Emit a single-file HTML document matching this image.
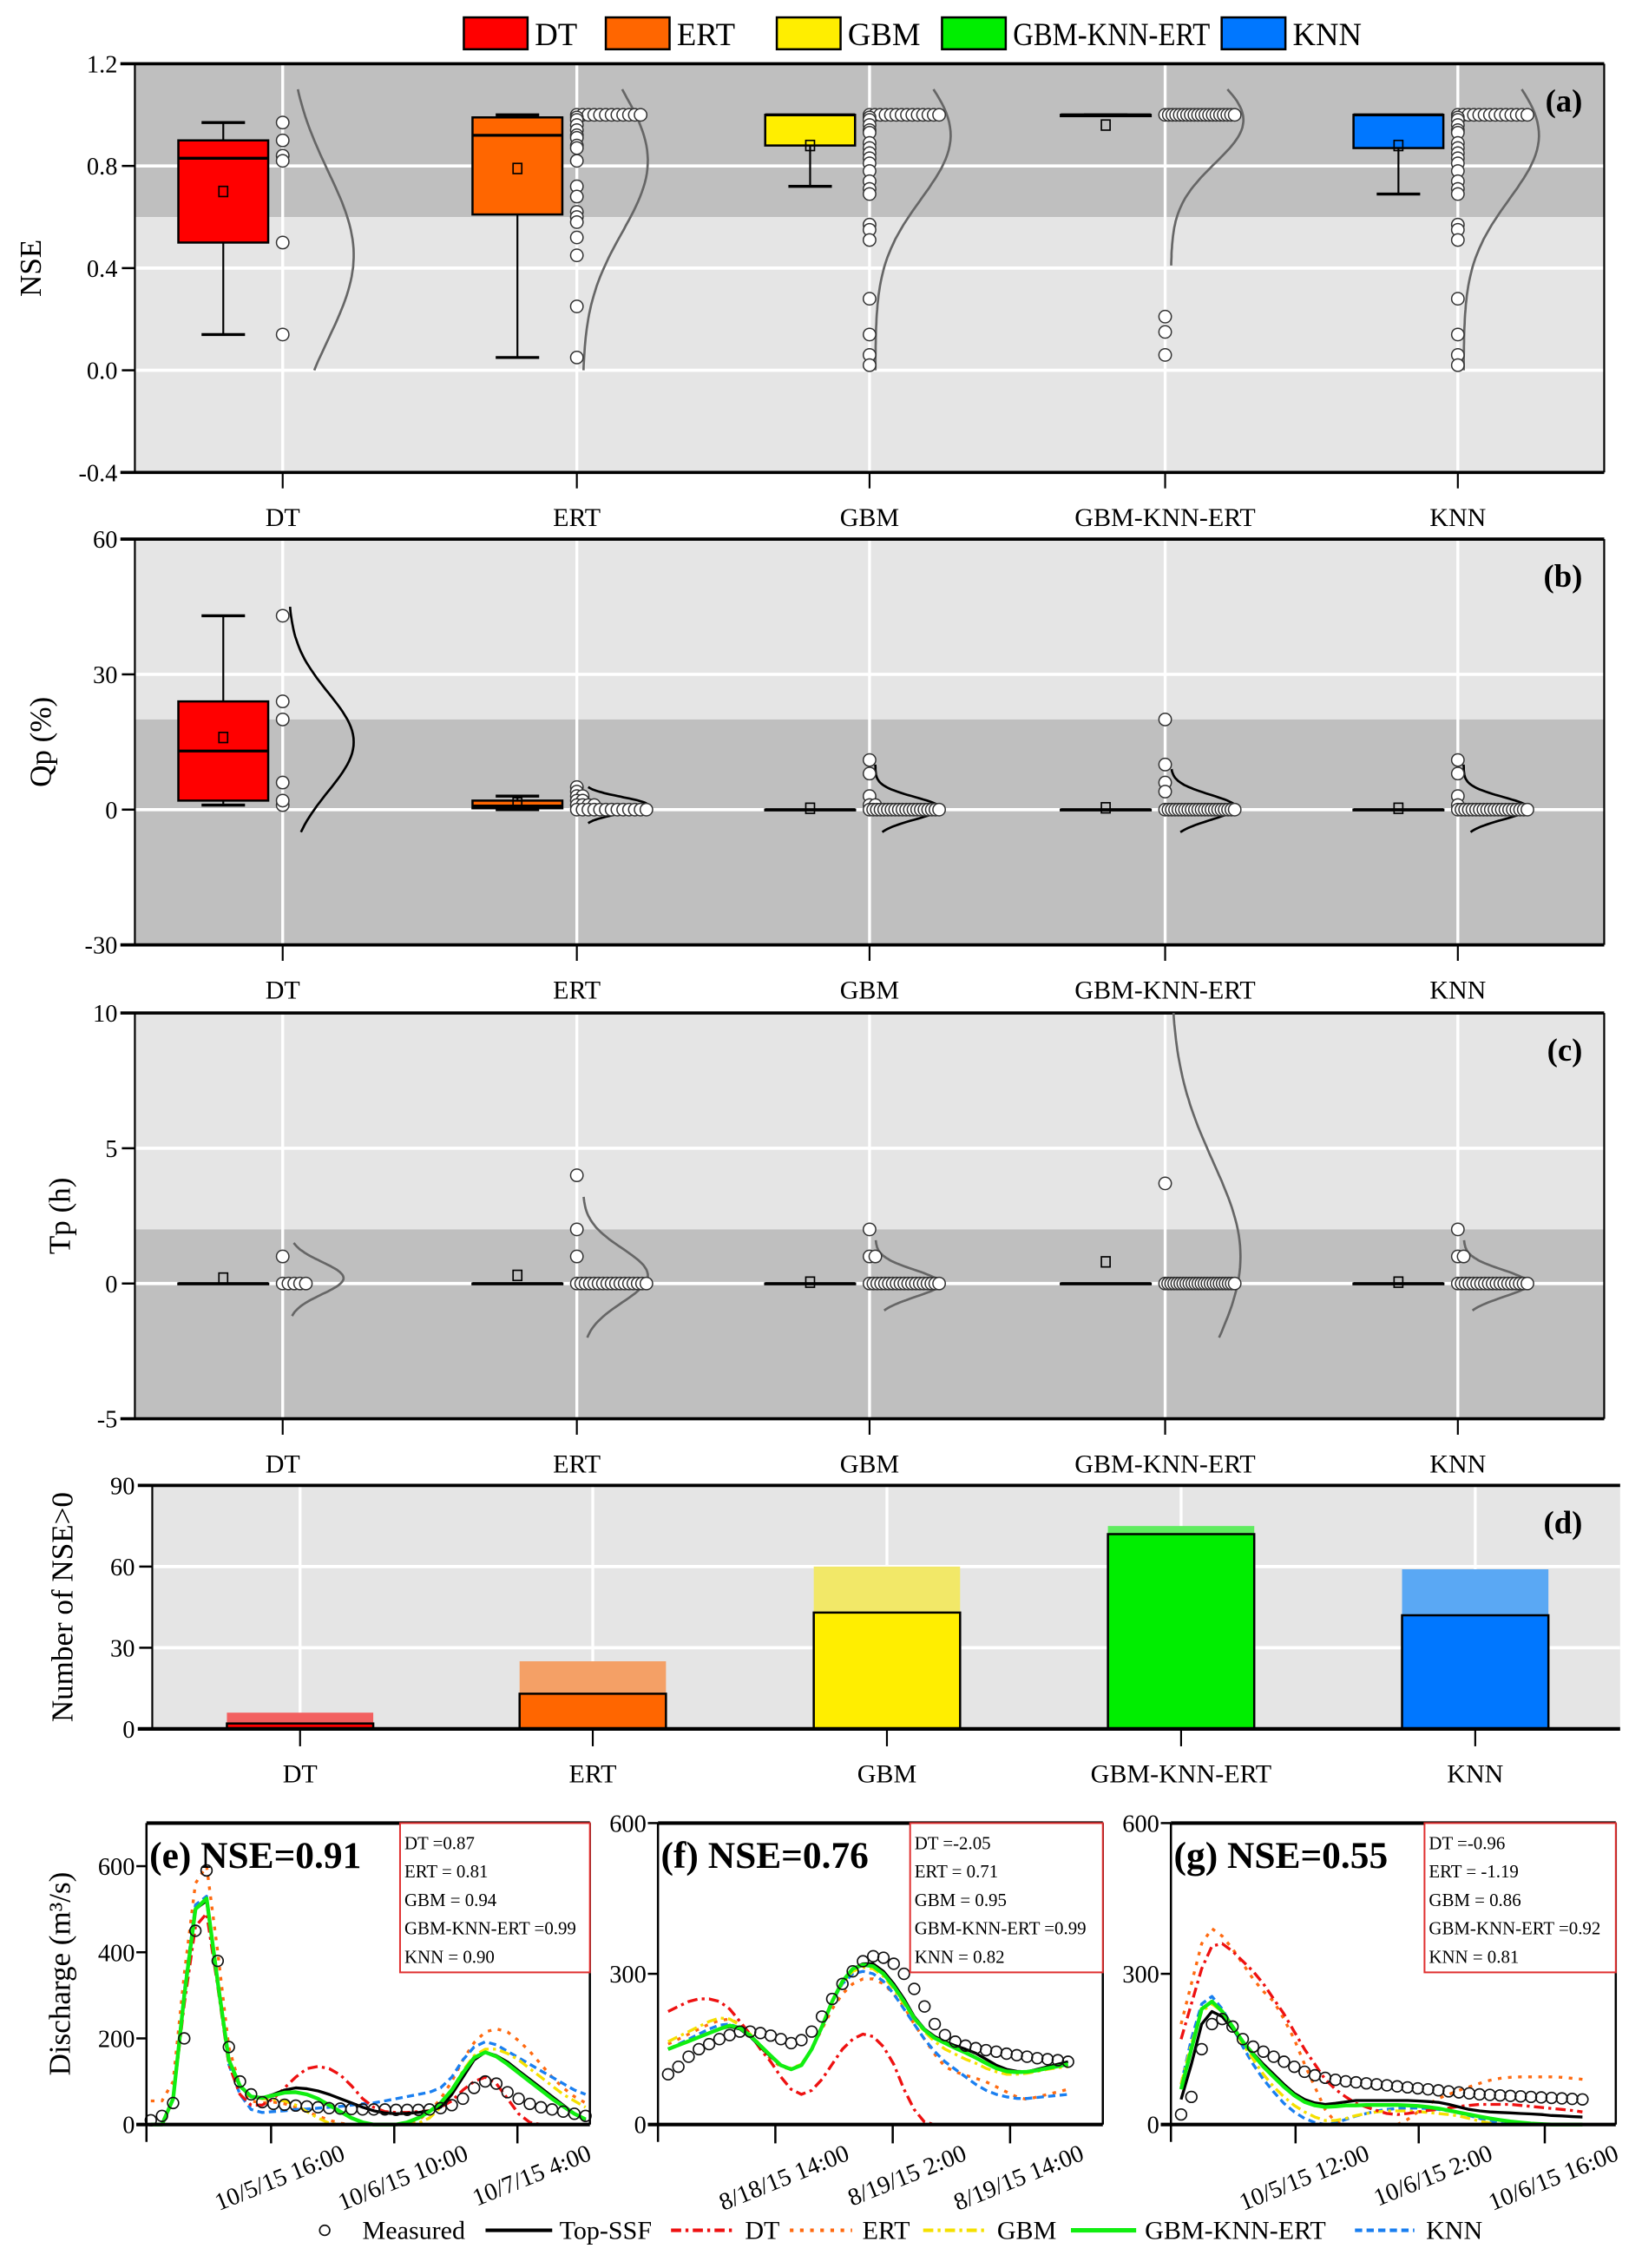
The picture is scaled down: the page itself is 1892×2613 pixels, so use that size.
<!DOCTYPE html>
<html><head><meta charset="utf-8">
<style>
html,body{margin:0;padding:0;background:#fff;}
svg{display:block;font-family:"Liberation Serif",serif;}
</style></head>
<body>
<svg id="fig" width="1892" height="2613" viewBox="0 0 1133 1565" xmlns="http://www.w3.org/2000/svg"></svg>
<script>
// ---------- data ----------
const categories = ["DT","ERT","GBM","GBM-KNN-ERT","KNN"];
const catColors = ["#ff0000","#ff6600","#ffee00","#00ee00","#0077ff"];
const lightColors = ["#f26060","#f4a066","#f2e868","#60ec60","#5aa8f4"];

// box stats: [low, q1, median, q3, high, mean]
const statsA = [[0.14,0.50,0.83,0.90,0.97,0.70],[0.05,0.61,0.92,0.99,1.0,0.79],[0.72,0.88,1.0,1.0,1.0,0.88],[1.0,0.995,1.0,1.0,1.0,0.96],[0.69,0.87,1.0,1.0,1.0,0.88]];
const statsB = [[1,2,13,24,43,16],[0,0.3,0.8,2,3,1.5],[0,0,0,0,0,0.3],[0,0,0,0,0,0.4],[0,0,0,0,0,0.3]];
const statsC = [[0,0,0,0,0,0.2],[0,0,0,0,0,0.3],[0,0,0,0,0,0.05],[0,0,0,0,0,0.8],[0,0,0,0,0,0.05]];

const pointsA = [
 [0.97,0.84,0.50,0.14,0.90,0.82],
 [1,1,1,1,1,1,1,1,1,1,1,1,0.99,0.98,0.96,0.94,0.92,0.91,0.88,0.87,0.82,0.72,0.68,0.62,0.60,0.58,0.52,0.45,0.25,0.05],
 [1,1,1,1,1,1,1,1,1,1,1,1,1,1,0.99,0.98,0.96,0.94,0.93,0.89,0.87,0.85,0.83,0.81,0.78,0.74,0.71,0.69,0.57,0.55,0.51,0.28,0.14,0.06,0.02],
 [1,1,1,1,1,1,1,1,1,1,1,1,1,1,1,1,1,1,1,1,0.21,0.15,0.06],
 [1,1,1,1,1,1,1,1,1,1,1,1,1,1,0.99,0.98,0.96,0.94,0.93,0.89,0.87,0.85,0.83,0.81,0.78,0.74,0.71,0.69,0.57,0.55,0.51,0.28,0.14,0.06,0.02]
];
const pointsB = [
 [43,24,20,6,1,2],
 [5,4,3,3,2,2,1,1,1,1,0,0,0,0,0,0,0,0,0,0,0,0,0],
 [11,8,3,1,1,0,0,0,0,0,0,0,0,0,0,0,0,0,0,0,0,0,0,0,0],
 [20,10,6,4,0,0,0,0,0,0,0,0,0,0,0,0,0,0,0,0,0,0,0,0,0,0],
 [11,8,3,1,0,0,0,0,0,0,0,0,0,0,0,0,0,0,0,0,0,0,0,0]
];
const pointsC = [
 [0,0,0,0,1,0],
 [4,2,1,0,0,0,0,0,0,0,0,0,0,0,0,0,0,0,0,0],
 [2,1,1,0,0,0,0,0,0,0,0,0,0,0,0,0,0,0,0,0,0,0],
 [3.7,0,0,0,0,0,0,0,0,0,0,0,0,0,0,0,0,0,0,0,0,0,0,0,0],
 [2,1,1,0,0,0,0,0,0,0,0,0,0,0,0,0,0,0,0,0,0,0]
];
// density curves: [mean, sd, lowest, highest, peakWidth]
const curvesA = [[0.45,0.33,0,1.1,45],[0.82,0.28,0,1.1,45],[0.92,0.25,0,1.1,52],[0.98,0.17,0.41,1.1,50],[0.92,0.25,0,1.1,52]];
const curvesB = [[15,11,-5,45,45],[1,1.8,-3,5,45],[0.3,2.5,-5,10,45],[0.5,2.8,-5,9,45],[0.3,2.5,-5,10,45]];
const curvesC = [[0.2,0.6,-1.2,1.5,38],[0.3,1.0,-2,3.2,45],[0,0.5,-1,1.6,45],[1,3.5,-2,10,48],[0,0.5,-1,1.6,45]];

const countAll = [6,25,60,75,59];
const countPos = [2,13,43,72,42];

const ticksA = [1.2,0.8,0.4,0.0,-0.4], tickLabA = ["1.2","0.8","0.4","0.0","-0.4"];
const ticksB = [60,30,0,-30], ticksC = [10,5,0,-5], ticksD = [90,60,30,0];

// time series
const eMeas = [10,20,50,200,450,590,380,180,100,70,52,48,46,44,42,40,38,37,36,35,35,35,34,34,34,35,38,45,60,85,100,95,75,60,48,40,35,30,25,20];
const eTop  = [0,0,60,300,500,520,330,150,90,65,62,70,80,85,83,78,70,60,50,40,32,27,25,26,28,32,40,70,110,150,168,160,145,125,105,85,65,45,25,10];
const eDT   = [0,0,60,280,460,490,320,140,70,45,45,60,85,110,130,135,130,115,90,60,40,30,28,28,30,32,40,55,80,100,110,95,60,25,5,0,0,0,0,0];
const eERT  = [55,55,100,350,560,600,400,180,90,55,50,52,48,40,30,20,10,3,0,0,0,0,0,2,10,30,60,100,150,190,215,222,215,195,170,140,110,85,65,50];
const eGBM  = [0,0,60,300,500,520,330,150,90,65,60,58,55,45,30,15,3,0,0,0,0,0,0,0,3,15,40,80,125,160,175,175,165,150,130,110,90,70,55,40];
const eGKE  = [0,0,60,300,500,525,330,150,90,65,62,68,74,75,70,60,45,30,15,5,0,0,0,5,15,30,50,80,120,155,168,158,140,120,100,80,60,42,25,12];
const eKNN  = [0,0,60,310,510,530,330,140,70,35,28,30,32,35,36,38,40,42,45,48,50,55,60,65,70,75,85,110,150,180,192,185,170,155,140,125,110,95,80,70];

const fMeas = [100,115,135,150,160,170,178,185,185,182,177,170,162,168,185,215,250,280,305,325,335,332,320,300,270,235,200,178,165,157,152,148,145,141,138,135,132,130,128,125];
const fTop  = [150,158,166,174,182,190,195,190,175,155,135,118,110,118,150,195,245,285,310,320,320,305,280,250,215,190,175,165,157,150,142,130,118,110,106,105,110,115,120,125];
const fDT   = [225,235,245,250,250,245,230,205,180,150,125,95,70,60,68,90,120,150,170,180,175,155,120,70,30,5,0,0,0,0,0,0,0,0,0,0,0,0,0,0];
const fERT  = [160,170,180,190,200,207,210,200,180,155,130,115,110,120,150,190,230,260,280,290,290,280,260,235,200,170,140,115,105,98,92,85,75,65,55,50,55,60,65,70];
const fGBM  = [165,175,185,195,205,212,210,198,180,158,137,118,112,120,150,195,245,282,305,313,310,295,270,240,210,185,165,150,140,130,122,112,105,100,100,102,106,110,113,115];
const fGKE  = [150,158,166,174,182,190,197,192,177,157,137,118,110,118,150,195,245,285,310,318,315,300,275,245,212,188,172,162,152,143,133,122,112,106,104,105,108,112,116,120];
const fKNN  = [150,160,170,180,190,198,200,192,175,155,135,117,110,118,150,195,245,280,300,305,300,285,260,230,200,170,145,125,110,95,80,68,60,55,52,52,54,56,58,60];

const gMeas = [20,55,150,200,210,195,170,155,145,135,125,115,105,98,93,89,86,84,82,80,78,76,74,72,70,68,66,64,62,60,59,58,57,56,55,54,53,52,51,50];
const gTop  = [50,120,200,225,215,190,165,142,120,100,80,62,50,43,40,42,45,48,48,48,48,48,48,47,46,44,40,35,30,27,25,24,23,22,21,20,18,17,16,15];
const gDT   = [170,240,310,355,360,345,325,305,280,250,220,185,150,120,90,70,55,42,35,28,22,20,22,25,28,30,33,36,38,40,40,40,40,38,36,34,32,30,28,25];
const gERT  = [200,280,360,390,375,350,320,290,265,245,210,170,120,75,30,5,0,0,0,0,0,0,10,25,40,52,60,68,75,82,88,92,94,95,95,95,95,94,92,90];
const gGBM  = [80,160,225,240,225,195,160,130,100,75,55,38,25,15,8,8,12,18,22,25,27,27,27,26,24,22,20,17,12,7,3,0,0,0,0,0,0,0,0,0];
const gGKE  = [70,150,230,245,225,195,165,140,115,95,75,58,45,38,35,36,38,38,39,39,39,39,38,37,35,32,28,24,20,16,12,9,6,4,2,1,0,0,0,0];
const gKNN  = [80,170,240,255,230,195,155,120,90,65,42,25,12,4,0,3,10,17,22,27,30,32,33,33,32,30,27,23,18,12,6,2,0,0,0,0,0,0,0,0];

const eTicks = ["10/5/15 16:00","10/6/15 10:00","10/7/15 4:00"];
const fTicks = ["8/18/15 14:00","8/19/15 2:00","8/19/15 14:00"];
const gTicks = ["10/5/15 12:00","10/6/15 2:00","10/6/15 16:00"];
const eScores = ["DT =0.87","ERT = 0.81","GBM = 0.94","GBM-KNN-ERT =0.99","KNN = 0.90"];
const fScores = ["DT =-2.05","ERT = 0.71","GBM = 0.95","GBM-KNN-ERT =0.99","KNN = 0.82"];
const gScores = ["DT =-0.96","ERT = -1.19","GBM = 0.86","GBM-KNN-ERT =0.92","KNN = 0.81"];

// ---------- helpers ----------
const NS = "http://www.w3.org/2000/svg";
const svg = document.getElementById("fig");
function mk(tag, attrs, parent, text){
  const el = document.createElementNS(NS, tag);
  for (const k in attrs) el.setAttribute(k, attrs[k]);
  if (text !== undefined) el.textContent = text;
  (parent||svg).appendChild(el);
  return el;
}
function lin(d0,d1,r0,r1){ return v => r0 + (v-d0)*(r1-r0)/(d1-d0); }

// ---------- top legend ----------
const legX = [320,418,536,650,843];
categories.forEach((c,i)=>{
  const g = mk("g",{});
  
  
  const r = mk("rect",{x:legX[i],y:12,width:44,height:22,fill:catColors[i],stroke:"#000","stroke-width":1.5},g);
  
  
  const ta = {x:legX[i]+49,y:31,"font-size":22};
  if (c === "GBM-KNN-ERT") { ta.textLength = 136; ta.lengthAdjust = "spacingAndGlyphs"; }
  const t = mk("text",ta,g,c);
  
  
});

// ---------- box panels ----------
const gridX = [195,398,600,804,1006];
function boxPanel(opts){
  const {name,top,bot,vmax,vmin,split,darkBelow,ticks,tickLab,stats,points,curves,curveColor,letter,title,titleX} = opts;
  const L=93, R=1107;
  const y = lin(vmax,vmin,top,bot);
  const g = mk("g",{});
  
  
  const ys = y(split);
  mk("rect",{x:L,y:top,width:R-L,height:ys-top,fill:darkBelow?"#e5e5e5":"#bfbfbf"},g);
  mk("rect",{x:L,y:ys,width:R-L,height:bot-ys,fill:darkBelow?"#bfbfbf":"#e5e5e5"},g);
  ticks.forEach(t=>{ if(t!==vmax && t!==vmin) mk("line",{x1:L,x2:R,y1:y(t),y2:y(t),stroke:"#fff","stroke-width":2.2},g); });
  gridX.forEach(x=>mk("line",{x1:x,x2:x,y1:top,y2:bot,stroke:"#fff","stroke-width":2},g));
  mk("line",{x1:L,x2:L,y1:top,y2:bot,stroke:"#000","stroke-width":1.3},g);
  mk("line",{x1:R,x2:R,y1:top,y2:bot,stroke:"#000","stroke-width":1.3},g);
  mk("line",{x1:L-10,x2:R,y1:top,y2:top,stroke:"#000","stroke-width":2.2},g);
  mk("line",{x1:L-10,x2:R,y1:bot,y2:bot,stroke:"#000","stroke-width":2.2},g);
  ticks.forEach((t,i)=>{
    mk("line",{x1:L-9,x2:L,y1:y(t),y2:y(t),stroke:"#000","stroke-width":1.5},g);
    const tl = mk("text",{x:L-12,y:y(t)+6,"font-size":17,"text-anchor":"end"},g,tickLab?tickLab[i]:String(t));
    
    
  });
  const yt = mk("text",{x:0,y:0,"font-size":21,"text-anchor":"middle",transform:`translate(${titleX},${(top+bot)/2}) rotate(-90)`},g,title);
  
  
  const lt = mk("text",{x:1092,y:top+33,"font-size":22,"font-weight":"bold","text-anchor":"end"},g,letter);
  
  
  categories.forEach((c,i)=>{
    const gx = gridX[i];
    mk("line",{x1:gx,x2:gx,y1:bot,y2:bot+11,stroke:"#000","stroke-width":1.3},g);
    const cl = mk("text",{x:gx,y:bot+37,"font-size":18,"text-anchor":"middle"},g,c);
    
    
    const [lo,q1,md,q3,hi,mn] = stats[i];
    const bx0 = gx-72, bx1 = gx-10, bc=(bx0+bx1)/2;
    const bg = mk("g",{},g);
    
    
    mk("line",{x1:bc,x2:bc,y1:y(hi),y2:y(lo),stroke:"#000","stroke-width":1.3},bg);
    if (hi!==q3) mk("line",{x1:bc-15,x2:bc+15,y1:y(hi),y2:y(hi),stroke:"#000","stroke-width":2},bg);
    if (lo!==q1) mk("line",{x1:bc-15,x2:bc+15,y1:y(lo),y2:y(lo),stroke:"#000","stroke-width":2},bg);
    mk("rect",{x:bx0,y:y(q3),width:bx1-bx0,height:Math.max(0.5,y(q1)-y(q3)),fill:catColors[i],stroke:"#000","stroke-width":1.5},bg);
    mk("line",{x1:bx0,x2:bx1,y1:y(md),y2:y(md),stroke:"#000","stroke-width":2},bg);
    mk("rect",{x:bc-3,y:y(mn)-3.5,width:6,height:7,fill:"none",stroke:"#000","stroke-width":1},bg);
    const [mu,sd,clo,chi,amp] = curves[i];
    let d="";
    for(let k=0;k<=60;k++){
      const v = clo + (chi-clo)*k/60;
      const px = gx+4+amp*Math.exp(-0.5*((v-mu)/sd)**2);
      d += (k?"L":"M")+px.toFixed(1)+","+y(v).toFixed(1);
    }
    const cp = mk("path",{d,fill:"none",stroke:curveColor,"stroke-width":1.6},g);
    
    
    const ysArr = points[i].map(v=>y(v));
    const groups = {};
    ysArr.forEach(py=>{ const key=Math.round(py/3); groups[key]=(groups[key]||0)+1; });
    const used = {};
    ysArr.forEach(py=>{
      const key=Math.round(py/3);
      const cnt=groups[key];
      const step = cnt>1 ? Math.min(4, 48/(cnt-1)) : 0;
      const k = used[key]||0; used[key]=k+1;
      const c2 = mk("circle",{cx:gx+k*step,cy:py,r:4.3,fill:"#fff",stroke:"#333","stroke-width":0.9},g);
      
      
    });
  });
}
boxPanel({name:"panel-a-nse",top:44,bot:326,vmax:1.2,vmin:-0.4,split:0.6,darkBelow:false,ticks:ticksA,tickLab:tickLabA,stats:statsA,points:pointsA,curves:curvesA,curveColor:"#666",letter:"(a)",title:"NSE",titleX:28});
boxPanel({name:"panel-b-qp",top:372,bot:652,vmax:60,vmin:-30,split:20,darkBelow:true,ticks:ticksB,stats:statsB,points:pointsB,curves:curvesB,curveColor:"#000",letter:"(b)",title:"Qp (%)",titleX:35});
boxPanel({name:"panel-c-tp",top:699,bot:979,vmax:10,vmin:-5,split:2,darkBelow:true,ticks:ticksC,stats:statsC,points:pointsC,curves:curvesC,curveColor:"#666",letter:"(c)",title:"Tp (h)",titleX:48});

// ---------- bar panel (d) ----------
(function(){
  const L=105,R=1118,top=1025,bot=1193;
  const y = lin(90,0,top,bot);
  const gxD=[207,409,612,815,1018];
  const g = mk("g",{});
  
  
  mk("rect",{x:L,y:top,width:R-L,height:bot-top,fill:"#e5e5e5"},g);
  [60,30].forEach(t=>mk("line",{x1:L,x2:R,y1:y(t),y2:y(t),stroke:"#fff","stroke-width":2.2},g));
  gxD.forEach(x=>mk("line",{x1:x,x2:x,y1:top,y2:bot,stroke:"#fff","stroke-width":2},g));
  mk("line",{x1:L,x2:L,y1:top,y2:bot,stroke:"#000","stroke-width":1.3},g);
  mk("line",{x1:L-10,x2:R,y1:top,y2:top,stroke:"#000","stroke-width":2.2},g);
  ticksD.forEach(t=>{
    mk("line",{x1:L-9,x2:L,y1:y(t),y2:y(t),stroke:"#000","stroke-width":1.5},g);
    const tl = mk("text",{x:L-12,y:y(t)+6,"font-size":17,"text-anchor":"end"},g,String(t));
    
    
  });
  const yt = mk("text",{x:0,y:0,"font-size":21,"text-anchor":"middle",transform:`translate(50,${(top+bot)/2}) rotate(-90)`},g,"Number of NSE>0");
  
  
  const lt = mk("text",{x:1092,y:top+33,"font-size":22,"font-weight":"bold","text-anchor":"end"},g,"(d)");
  
  
  categories.forEach((c,i)=>{
    const gx=gxD[i], w=101;
    const b1 = mk("rect",{x:gx-w/2,y:y(countAll[i]),width:w,height:bot-y(countAll[i]),fill:lightColors[i]},g);
    
    
    const b2 = mk("rect",{x:gx-w/2,y:y(countPos[i]),width:w,height:bot-y(countPos[i]),fill:catColors[i],stroke:"#000","stroke-width":1.5},g);
    
    
    mk("line",{x1:gx,x2:gx,y1:bot,y2:bot+12,stroke:"#000","stroke-width":1.3},g);
    const cl = mk("text",{x:gx,y:bot+37,"font-size":18,"text-anchor":"middle"},g,c);
    
    
  });
  mk("line",{x1:L-10,x2:R,y1:bot,y2:bot,stroke:"#000","stroke-width":2.5},g);
})();

// ---------- time series panels ----------
const styles = {
  top:{stroke:"#000",w:2,dash:""},
  dt:{stroke:"#ee1111",w:2,dash:"7,3,2,3"},
  ert:{stroke:"#ff6a10",w:2,dash:"2.5,4.5"},
  gbm:{stroke:"#f5e000",w:2,dash:"7,3,2,3"},
  gke:{stroke:"#11ee11",w:2.6,dash:""},
  knn:{stroke:"#1a7ff0",w:2,dash:"5,3"}
};
function tsPanel(o){
  const {name,L,R,top,bot,vmax,ticks,x0,x1,series,meas,tickX,tickLab,scores,boxX,title} = o;
  const y = lin(0,vmax,bot,top);
  const g = mk("g",{});
  
  
  const n = meas.length;
  const x = lin(0,n-1,x0,x1);
  const order=["ert","knn","gbm","dt","top","gke"];
  order.forEach(k=>{
    const arr = series[k]; const s=styles[k];
    const d = arr.map((v,i)=>(i?"L":"M")+x(i).toFixed(1)+","+y(v).toFixed(1)).join("");
    const p = mk("path",{d,fill:"none",stroke:s.stroke,"stroke-width":s.w,"stroke-dasharray":s.dash,"stroke-linejoin":"round"},g);
    
    
  });
  meas.forEach((v,i)=>{
    const c = mk("circle",{cx:x(i),cy:y(v),r:3.8,fill:"none",stroke:"#111","stroke-width":1},g);
    
    
  });
  mk("line",{x1:L,x2:L,y1:top,y2:bot+12,stroke:"#000","stroke-width":1.5},g);
  mk("line",{x1:R,x2:R,y1:top,y2:bot,stroke:"#000","stroke-width":1.5},g);
  mk("line",{x1:L,x2:R,y1:top,y2:top,stroke:"#000","stroke-width":2.5},g);
  mk("line",{x1:L-7,x2:R,y1:bot,y2:bot,stroke:"#000","stroke-width":2.5},g);
  ticks.forEach(t=>{
    mk("line",{x1:L-7,x2:L,y1:y(t),y2:y(t),stroke:"#000","stroke-width":1.5},g);
    const tl = mk("text",{x:L-8,y:y(t)+6,"font-size":17,"text-anchor":"end"},g,String(t));
    
    
  });
  tickX.forEach((tx,i)=>{
    mk("line",{x1:tx,x2:tx,y1:bot,y2:bot+13,stroke:"#000","stroke-width":1.5},g);
    const tl = mk("text",{x:0,y:0,"font-size":17,"text-anchor":"end",transform:`translate(${tx+52},${bot+24}) rotate(-22)`},g,tickLab[i]);
    
    
  });
  const sb = mk("g",{},g);
  
  
  mk("rect",{x:boxX,y:top,width:R-boxX,height:103,fill:"#fff",stroke:"#e03030","stroke-width":1.2},sb);
  scores.forEach((s,i)=>mk("text",{x:boxX+3,y:top+18+i*19.6,"font-size":12.5},sb,s));
  const tt = mk("text",{x:L+2,y:top+31,"font-size":26,"font-weight":"bold"},g,title);
  
  
}
tsPanel({name:"panel-e",L:101,R:407,top:1258,bot:1466,vmax:700,ticks:[0,200,400,600],x0:104,x1:404,
  series:{top:eTop,dt:eDT,ert:eERT,gbm:eGBM,gke:eGKE,knn:eKNN},meas:eMeas,tickX:[187,272,357],tickLab:eTicks,scores:eScores,boxX:276,title:"(e) NSE=0.91"});
tsPanel({name:"panel-f",L:454,R:761,top:1258,bot:1466,vmax:600,ticks:[0,300,600],x0:461,x1:737,
  series:{top:fTop,dt:fDT,ert:fERT,gbm:fGBM,gke:fGKE,knn:fKNN},meas:fMeas,tickX:[535,616,697],tickLab:fTicks,scores:fScores,boxX:628,title:"(f) NSE=0.76"});
tsPanel({name:"panel-g",L:808,R:1115,top:1258,bot:1466,vmax:600,ticks:[0,300,600],x0:815,x1:1092,
  series:{top:gTop,dt:gDT,ert:gERT,gbm:gGBM,gke:gGKE,knn:gKNN},meas:gMeas,tickX:[894,979,1066],tickLab:gTicks,scores:gScores,boxX:983,title:"(g) NSE=0.55"});

const dy = mk("text",{x:0,y:0,"font-size":21,"text-anchor":"middle",transform:"translate(48,1362) rotate(-90)"},svg,"Discharge (m³/s)");



// ---------- bottom legend ----------
(function(){
  const g = mk("g",{});
  
  
  const yy=1545;
  mk("circle",{cx:224,cy:yy-6,r:3.5,fill:"none",stroke:"#111","stroke-width":1},g);
  mk("text",{x:250,y:yy,"font-size":18},g,"Measured");
  const items=[["top",335,381,386,"Top-SSF"],["dt",463,508,514,"DT"],["ert",545,588,595,"ERT"],["gbm",637,682,688,"GBM"],["gke",739,784,790,"GBM-KNN-ERT"],["knn",935,976,984,"KNN"]];
  items.forEach(it=>{
    const s=styles[it[0]];
    mk("line",{x1:it[1],x2:it[2],y1:yy-6,y2:yy-6,stroke:s.stroke,"stroke-width":s.w+0.5,"stroke-dasharray":s.dash},g);
    mk("text",{x:it[3],y:yy,"font-size":18},g,it[4]);
  });
})();
</script>
</body></html>
